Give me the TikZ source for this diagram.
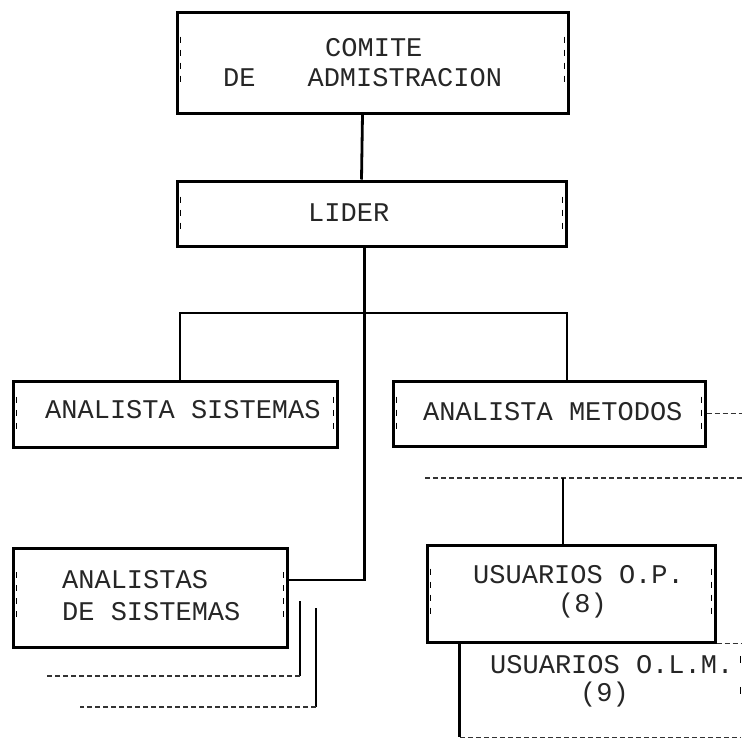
\documentclass[tikz,border=0pt]{standalone}
\usepackage{fontspec}
\setmonofont{Liberation Mono}
\usepackage{tikz}
\usetikzlibrary{calc}

\begin{document}
\begin{tikzpicture}[
  x=1pt, y=-1pt,
  box/.style n args={2}{draw, line width=3pt, inner sep=0pt, minimum width=#1, minimum height=#2},
  openbox/.style n args={2}{inner sep=0pt, minimum width=#1, minimum height=#2},
  txt/.style={font=\ttfamily\fontsize{27}{32}\selectfont, anchor=west, inner sep=0pt, text=black!85},
  link/.style={line width=2.8pt},
  frame/.style={line width=3pt},
  dots/.style={line width=1.3pt, dash pattern=on 5pt off 3pt, black!80},
  tick/.style={line width=1.3pt, dash pattern=on 6pt off 7pt}
]
\useasboundingbox (0,0) rectangle (742,740);
% boxes
\node[box={391pt}{101pt}] (comite) at (372.5,62.5) {};
\node[box={389pt}{65pt}] (lider) at (371.5,213.5) {};
\node[box={324pt}{66pt}] (analsis) at (175,414) {};
\node[box={312pt}{65pt}] (analmet) at (549,413.5) {};
\node[box={274pt}{99pt}] (analistas) at (150,597.5) {};
\node[box={288pt}{97pt}] (usuop) at (571,593.5) {};
\node[openbox={280pt}{95pt}] (usuolm) at (600,689.5) {};
% texts
\node[txt] (comite-a) at (325,48) {COMITE};
\node[txt] (comite-b) at (223,78) {DE\hspace{52pt}ADMISTRACION};
\node[txt] (lider-a) at (308,213) {LIDER};
\node[txt] (analsis-a) at (45,410) {ANALISTA SISTEMAS};
\node[txt] (analmet-a) at (423,412) {ANALISTA METODOS};
\node[txt] (analistas-a) at (62,580) {ANALISTAS};
\node[txt] (analistas-b) at (62,612) {DE SISTEMAS};
\node[txt] (usuop-a) at (473,575) {USUARIOS O.P.};
\node[txt] (usuop-b) at (558,606) {(8)};
\node[txt] (usuolm-a) at (490,665) {USUARIOS O.L.M.};
\node[txt] (usuolm-b) at (580,695) {(9)};
% inner marks along the sides
\foreach \b in {comite,lider,analsis,analmet,analistas,usuop} {
  \draw[tick] ($(\b.north west)!0.25!(\b.south west)+(5,0)$) -- ($(\b.north west)!0.75!(\b.south west)+(5,0)$);
  \draw[tick] ($(\b.north east)!0.25!(\b.south east)+(-5,0)$) -- ($(\b.north east)!0.75!(\b.south east)+(-5,0)$);
}
% open box
\draw[frame] (usuolm.north west) -- (usuolm.south west);
\draw[dots] (usuolm.south west) -- (usuolm.south east);
\draw[tick, dash pattern=on 7pt off 24pt] ([yshift=-14pt]usuolm.north east) -- ([yshift=30pt]usuolm.south east);
% connectors
\coordinate (split) at (365,313);
\coordinate (dotL) at (425,478);
\coordinate (dotR) at (742,478);
\coordinate (usutop) at ([xshift=-8pt]usuop.north);
\draw[link] ([xshift=-10pt]comite.south) -- ([xshift=-10pt]lider.north);
\draw[link] ([xshift=-7pt]lider.south) |- ([yshift=17.5pt]analistas.east);
\draw[link] ([xshift=5pt]analsis.north) |- (split) -| ([xshift=18pt]analmet.north);
\draw[dots] (dotL) -- (dotR);
\draw[link] (usutop) -- (usutop |- dotL);
\draw[dots] (analmet.east) -- (analmet.east -| dotR);
\draw[dots] (usuop.south east) -- (usuop.south east -| dotR);
% loose ends below
\coordinate (c1) at (300,601);
\coordinate (c2) at (316,608);
\coordinate (d1) at (45,676);
\coordinate (d2) at (80,707);
\draw[link] (c1) -- (c1 |- d1);
\draw[dots] (c1 |- d1) -- (d1);
\draw[link] (c2) -- (c2 |- d2);
\draw[dots] (c2 |- d2) -- (d2);
\end{tikzpicture}
\end{document}
